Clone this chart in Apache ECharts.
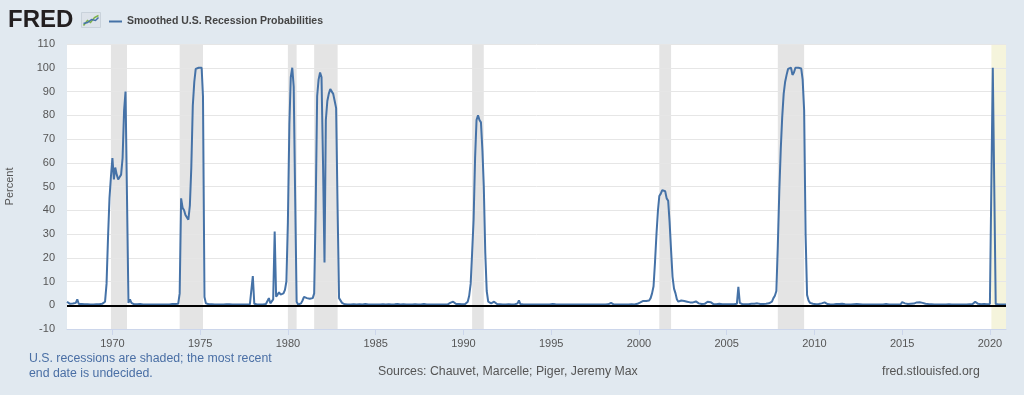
<!DOCTYPE html>
<html>
<head>
<meta charset="utf-8">
<script src="https://cdn.jsdelivr.net/npm/echarts@6/dist/echarts.min.js"></script>
<style>
html,body{margin:0;padding:0;background:#e1e9f0;}
#chart{width:1024px;height:395px;}
</style>
</head>
<body>
<div id="chart"></div>
<script>
// ---- Data (monthly, starting June 1967) ----
const seriesName = 'Smoothed U.S. Recession Probabilities';
const startYear = 1967, startMonth = 6;
const vals1967_1969 = [
  1.5,0.8,0.6,0.5,0.7,0.6,1.0,                       // 1967 Jun-Dec
  2.5,0.5,0.4,0.5,0.4,0.4,0.3,0.4,0.3,0.3,0.4,0.3,    // 1968
  0.3,0.4,0.3,0.4,0.5,0.6,0.8,1.5,9,28,45,54          // 1969
];
const vals1970s = [
  62,53,58,55,53,54,55,62,82,90,45,1.0,               // 1970
  2.5,1.0,0.5,0.4,0.6,0.4,0.3,0.5,0.3,0.3,0.4,0.3,    // 1971
  0.3,0.3,0.4,0.3,0.3,0.3,0.4,0.3,0.3,0.3,0.3,0.3,    // 1972
  0.3,0.3,0.4,0.3,0.4,0.5,0.4,0.5,0.5,0.6,5,45,       // 1973
  41,40,38,37,36,42,58,84,94,99.5,100,100,            // 1974
  100,100,88,3.5,0.8,0.5,0.4,0.3,0.4,0.3,0.3,0.3,     // 1975
  0.3,0.3,0.3,0.4,0.3,0.3,0.4,0.5,0.4,0.3,0.3,0.3,    // 1976
  0.3,0.3,0.3,0.3,0.3,0.4,0.3,0.3,0.3,0.3,0.4,0.5,    // 1977
  12.3,0.6,0.4,0.3,0.3,0.3,0.4,0.3,0.4,0.5,0.8,3,     // 1978
  0.8,1,2.5,31,3.6,4.5,5.5,4.5,4.5,5,6.5,10           // 1979
];
const vals1980s = [
  35,76,96,100,92,45,1.5,0.3,0.3,0.8,2,3.5,           // 1980
  4,3,2.7,2.7,2.7,3,5,40,88,95,98,96,                 // 1981
  60,18,78,86,89,91,91,89,86,83,40,3,                 // 1982
  2.5,1.0,0.6,0.4,0.3,0.3,0.4,0.3,0.3,0.4,0.3,0.3,    // 1983
  0.3,0.4,0.3,0.3,0.3,0.5,0.4,0.3,0.3,0.3,0.4,0.3,    // 1984
  0.3,0.3,0.4,0.3,0.5,0.4,0.3,0.3,0.3,0.4,0.3,0.3,    // 1985
  0.3,0.4,0.3,0.5,0.4,0.3,0.3,0.4,0.3,0.3,0.3,0.3,    // 1986
  0.3,0.3,0.3,0.4,0.3,0.3,0.3,0.3,0.4,0.5,0.4,0.3,    // 1987
  0.3,0.3,0.3,0.3,0.4,0.3,0.3,0.3,0.3,0.3,0.3,0.3,    // 1988
  0.3,0.3,0.5,1,1.5,1.5,1.3,0.5,0.4,0.5,0.4,0.4       // 1989
];
const vals1990s = [
  0.5,0.4,0.5,1.5,4,9,22,36,62,78,80,78,              // 1990
  77,65,50,22,6,1.5,1,0.8,1.2,1.5,1,0.5,              // 1991
  0.4,0.4,0.3,0.3,0.4,0.3,0.3,0.4,0.3,0.3,0.3,0.3,    // 1992
  0.4,0.8,2,0.5,0.4,0.3,0.3,0.3,0.4,0.3,0.3,0.3,      // 1993
  0.3,0.3,0.3,0.3,0.3,0.3,0.3,0.3,0.3,0.3,0.3,0.3,    // 1994
  0.8,0.5,0.4,0.4,0.3,0.3,0.3,0.3,0.3,0.3,0.3,0.3,    // 1995
  0.4,0.3,0.3,0.3,0.3,0.3,0.3,0.3,0.3,0.3,0.3,0.3,    // 1996
  0.3,0.3,0.3,0.3,0.3,0.3,0.3,0.3,0.3,0.3,0.3,0.3,    // 1997
  0.3,0.3,0.3,0.4,0.5,1,0.5,0.3,0.3,0.3,0.3,0.3,      // 1998
  0.3,0.3,0.3,0.3,0.3,0.3,0.3,0.4,0.4,0.3,0.4,0.6     // 1999
];
const vals2000s = [
  1,1.2,1.5,1.8,2,1.8,1.5,2,3,5,8,18,                 // 2000
  30,40,46,47,48.5,49,48,45,44,35,23,12,              // 2001
  7,5,2.5,1.5,1.2,2,1.5,1.8,1.2,1.5,1.8,1.2,          // 2002
  1.5,1.2,1,1.6,1,0.8,0.6,0.5,0.5,0.6,0.8,1.5,        // 2003
  1.5,1.3,0.8,0.5,0.5,0.4,0.5,0.6,0.4,0.4,0.5,0.4,    // 2004
  0.4,0.4,0.5,0.4,0.4,0.4,0.5,0.6,7.8,1.0,0.5,0.4,    // 2005
  0.4,0.4,0.5,0.4,0.5,0.6,0.5,0.6,0.5,0.8,0.6,0.5,    // 2006
  0.5,0.5,0.6,0.6,0.7,0.8,1,1.5,3,4,6,25,             // 2007
  48,66,79,89,94,97,99.5,100,100,97,98,100,           // 2008
  100,100,100,99.7,95,82,30,4.3,2,1,0.8,0.6           // 2009
];
const vals2010s = [
  0.5,0.4,0.4,0.5,0.6,0.8,1.5,1.2,0.8,0.5,0.4,0.3,    // 2010
  0.3,0.3,0.4,0.5,0.6,0.5,0.4,0.6,0.5,0.4,0.3,0.3,    // 2011
  0.3,0.3,0.3,0.4,0.4,0.5,0.4,0.4,0.3,0.3,0.3,0.3,    // 2012
  0.3,0.3,0.3,0.3,0.4,0.3,0.3,0.3,0.3,0.3,0.3,0.3,    // 2013
  0.4,0.5,0.4,0.3,0.3,0.3,0.3,0.3,0.3,0.3,0.3,0.4,    // 2014
  1.3,1,0.8,0.6,0.5,0.5,0.6,0.8,0.7,0.9,1.2,1.3,      // 2015
  1.3,1.2,1,0.8,0.6,0.5,0.5,0.4,0.4,0.4,0.3,0.3,      // 2016
  0.3,0.3,0.3,0.3,0.3,0.3,0.3,0.3,0.4,0.3,0.3,0.3,    // 2017
  0.3,0.3,0.3,0.3,0.3,0.3,0.3,0.3,0.3,0.3,0.4,0.5,    // 2018
  0.4,0.8,1.5,1.2,0.6,0.5,0.4,0.4,0.5,0.4,0.4,0.4     // 2019
];
const vals2020 = [0.5,0.8,100,100,0.5,0.3,0.3,0.3,0.3,0.3,0.3,0.3];

// recession periods as [year, month] pairs (month 1-12)
const recessionStarts = [[1969,12],[1973,11],[1980,1],[1981,7],[1990,7],[2001,3],[2007,12]];
const recessionEnds   = [[1970,11],[1975,3],[1980,7],[1982,11],[1991,3],[2001,11],[2009,6]];
const undecidedStart = [2020,2];
const axisStart = [1967,6], axisEnd = [2020,12];
const tickYears = [1970,1975,1980,1985,1990,1995,2000,2005,2010,2015,2020];
const yTicks = {min:-10, max:110, interval:10};

// ---- Build ----
const ts = (y, m) => new Date(y, m - 1, 1).getTime();
const values = [].concat(vals1967_1969, vals1970s, vals1980s, vals1990s, vals2000s, vals2010s, vals2020);
const seriesData = values.map((v, i) => {
  const m = startMonth - 1 + i;
  return [ts(startYear + Math.floor(m / 12), m % 12 + 1), v];
});
const tickValues = tickYears.map(y => ts(y, 1));

const areaGray = recessionStarts.map((s, i) => [{xAxis: ts(s[0], s[1])}, {xAxis: ts(recessionEnds[i][0], recessionEnds[i][1])}]);
const areaYellow = [[{xAxis: ts(undecidedStart[0], undecidedStart[1]), itemStyle:{color:'#f5f4dc'}}, {xAxis: ts(axisEnd[0], axisEnd[1])}]];

const FONT = '"Liberation Sans", Arial, sans-serif';
const chart = echarts.init(document.getElementById('chart'), null, {renderer:'canvas'});
chart.setOption({
  animation: false,
  backgroundColor: '#e1e9f0',
  textStyle: {fontFamily: FONT},
  grid: {left: 67, right: 18, top: 44, bottom: 66, show: true, backgroundColor: '#ffffff', borderWidth: 0,
    outerBoundsMode: 'none', containLabel: false},
  legend: {
    data: [seriesName], left: 104, top: 11, icon: 'rect', itemWidth: 13, itemHeight: 2, itemGap: 6,
    textStyle: {fontSize: 10.5, color: '#444', fontWeight: 'bold', fontFamily: FONT}
  },
  xAxis: {
    type: 'value', min: ts(axisStart[0], axisStart[1]), max: ts(axisEnd[0], axisEnd[1]), z: 2,
    axisLine: {show: true, onZero: false, lineStyle: {color: '#ccd6eb', width: 1}},
    axisTick: {show: true, customValues: tickValues, length: 6, lineStyle: {color: '#ccd6eb'}},
    axisLabel: {customValues: tickValues, formatter: v => String(new Date(v).getFullYear()),
      color: '#555', fontSize: 11, margin: 9, fontFamily: FONT},
    splitLine: {show: false}
  },
  yAxis: {
    type: 'value', min: yTicks.min, max: yTicks.max, interval: yTicks.interval, z: 2,
    name: 'Percent', nameLocation: 'middle', nameRotate: 90, nameGap: 52,
    nameTextStyle: {color: '#555', fontSize: 11, fontFamily: FONT},
    axisLine: {show: false}, axisTick: {show: false},
    axisLabel: {color: '#555', fontSize: 11, margin: 12, fontFamily: FONT},
    splitLine: {show: true, lineStyle: {color: '#e6e6e6', width: 1}}
  },
  series: [
    {
      type: 'line', data: seriesData, z: 1, silent: true, showSymbol: false, symbol: 'none',
      lineStyle: {opacity: 0},
      markArea: {silent: true, itemStyle: {color: '#e4e4e4'}, data: areaGray.concat(areaYellow)}
    },
    {
      name: seriesName, type: 'line', data: seriesData, z: 3, showSymbol: false, symbol: 'none',
      color: '#4572a7',
      lineStyle: {color: '#4572a7', width: 2},
      markLine: {silent: true, symbol: 'none', label: {show: false},
        lineStyle: {color: '#000', width: 2, type: 'solid'}, data: [{yAxis: 0}]}
    }
  ],
  graphic: [
    {type: 'text', left: 8, top: 8, style: {text: 'FRED', font: 'bold 24px ' + FONT, fill: '#231f20'}},
    {type: 'group', left: 81, top: 12, children: [
      {type: 'rect', shape: {x: 0, y: 0, width: 19, height: 15}, style: {fill: '#dde3ea', stroke: '#c9d2db', lineWidth: 1}},
      {type: 'polyline', shape: {points: [[2,13],[6,8],[9,10],[13,5],[17,3]]}, style: {stroke: '#7db249', lineWidth: 1.5, fill: null}},
      {type: 'polyline', shape: {points: [[2,11],[6,10],[10,7],[14,8],[17,5]]}, style: {stroke: '#4572a7', lineWidth: 1.5, fill: null}}
    ]},
    {type: 'text', left: 29, top: 351, style: {text: 'U.S. recessions are shaded; the most recent\nend date is undecided.', font: '12.3px ' + FONT, fill: '#4a6fa5', lineHeight: 15}},
    {type: 'text', left: 378, top: 366, style: {text: 'Sources: Chauvet, Marcelle; Piger, Jeremy Max', font: '12.3px ' + FONT, fill: '#555'}},
    {type: 'text', left: 882, top: 366, style: {text: 'fred.stlouisfed.org', font: '12.3px ' + FONT, fill: '#555'}}
  ]
});
</script>
</body>
</html>
